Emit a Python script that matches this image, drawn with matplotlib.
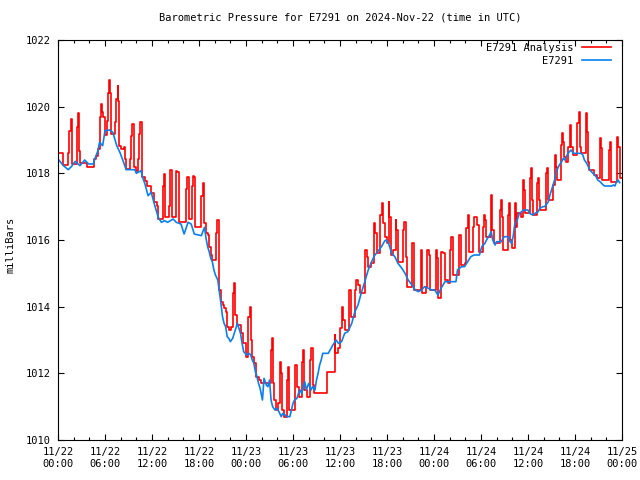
import matplotlib

matplotlib.use("Agg")
import matplotlib.pyplot as plt
import pandas as pd
from matplotlib.ticker import MultipleLocator

# hours after 2024-11-22 00:00 UTC, pressure in mb
blue_hours = [
    0.0, 0.7, 1.3, 1.7, 2.2, 2.8, 3.4, 3.9, 4.5, 4.7, 5.1, 5.3, 5.7, 6.0, 6.6, 7.0,
    7.5, 7.9, 8.3, 8.7, 9.8, 10.0, 10.6, 10.8, 11.1, 11.5, 11.9, 12.3, 12.8, 13.2,
    13.6, 14.0, 14.7, 15.1, 15.7, 16.1, 16.6, 17.0, 17.4, 18.3, 18.7, 18.9, 19.1,
    19.3, 19.5, 19.7, 19.9, 20.1, 20.4, 20.6, 20.8, 21.0, 21.2, 21.4, 21.6, 21.8,
    22.0, 22.3, 22.5, 22.9, 23.3, 23.5, 23.7, 23.9, 24.1, 24.4, 24.6, 24.8, 25.0,
    25.2, 25.4, 25.6, 25.8, 26.1, 26.3, 26.6, 26.8, 27.0, 27.2, 27.4, 27.7, 27.9,
    28.1, 28.3, 28.5, 28.7, 29.0, 29.2, 29.6, 29.8, 30.0, 30.2, 30.5, 30.7, 30.9,
    31.1, 31.3, 31.5, 31.7, 32.0, 32.3, 32.5, 32.8, 33.0, 33.2, 33.4, 33.6, 33.8,
    34.5, 35.1, 35.5, 35.8, 36.2, 36.6, 37.0, 37.5, 37.9, 38.3, 38.7, 39.1, 39.6,
    40.0, 40.4, 40.9, 41.3, 41.7, 41.9, 42.2, 42.6, 43.0, 43.4, 43.9, 44.3, 44.7,
    45.2, 45.6, 46.0, 46.4, 46.8, 47.3, 47.7, 48.1, 48.5, 48.9, 49.4, 50.2, 50.8,
    51.0, 51.5, 51.9, 52.3, 52.7, 53.1, 53.4, 53.8, 54.1, 54.5, 54.7, 55.1, 55.3,
    55.5, 55.8, 56.0, 56.6, 56.8, 57.0, 57.5, 57.7, 57.9, 58.1, 58.3, 58.5, 58.7,
    58.9, 59.2, 59.4, 60.0, 60.2, 60.6, 60.9, 61.3, 61.5, 61.9, 62.1, 62.3, 62.6,
    62.8, 63.0, 63.2, 63.4, 63.6, 63.8, 64.0, 64.3, 64.5, 64.7, 64.9, 65.1, 65.5,
    65.8, 66.8, 67.0, 67.2, 67.5, 67.7, 67.9, 68.1, 68.3, 68.5, 68.7, 68.9, 69.2,
    69.6, 69.8, 70.7, 70.9, 71.1, 71.3, 71.5, 71.7,
]
blue_press = [
    1018.43, 1018.23, 1018.11, 1018.20, 1018.36, 1018.23, 1018.40, 1018.28, 1018.28,
    1018.43, 1018.68, 1018.93, 1018.83, 1019.28, 1019.30, 1019.23, 1018.83, 1018.63,
    1018.38, 1018.11, 1018.11, 1018.00, 1018.08, 1017.88, 1017.68, 1017.33, 1017.43,
    1017.08, 1016.68, 1016.53, 1016.58, 1016.53, 1016.63, 1016.53, 1016.48, 1016.18,
    1016.53, 1016.48, 1016.18, 1016.13, 1016.38, 1016.05, 1015.80, 1015.65, 1015.45,
    1015.35, 1015.10, 1014.95, 1014.80, 1014.45, 1014.10, 1013.70, 1013.50, 1013.40,
    1013.10, 1013.05, 1012.95, 1013.05, 1013.20, 1013.50, 1013.20, 1012.90, 1012.65,
    1012.60, 1012.55, 1012.60, 1012.55, 1012.40, 1012.30, 1012.05, 1011.90, 1011.70,
    1011.55, 1011.20, 1011.85, 1011.65, 1011.60, 1011.80, 1011.20, 1011.00, 1010.90,
    1010.95, 1010.90, 1010.80, 1010.70, 1010.80, 1010.75, 1010.70, 1010.70, 1010.90,
    1011.10, 1011.20, 1011.25, 1011.40, 1011.50, 1011.40, 1011.60, 1011.75, 1011.50,
    1011.70, 1011.50, 1011.60, 1011.50, 1011.80, 1012.00, 1012.25, 1012.40, 1012.60,
    1012.60, 1012.85, 1013.00, 1012.90, 1012.95, 1013.20, 1013.25, 1013.50, 1013.85,
    1014.05, 1014.40, 1014.70, 1015.10, 1015.33, 1015.53, 1015.68, 1015.80, 1015.97,
    1016.00, 1015.90, 1015.60, 1015.50, 1015.30, 1015.15, 1015.00, 1014.80, 1014.65,
    1014.50, 1014.45, 1014.50, 1014.60, 1014.55, 1014.50, 1014.50, 1014.35, 1014.55,
    1014.75, 1014.75, 1014.75, 1015.10, 1015.20, 1015.20, 1015.35, 1015.50, 1015.55,
    1015.55, 1015.55, 1015.80, 1015.90, 1016.00, 1016.15, 1016.25, 1016.00, 1015.85,
    1015.95, 1015.95, 1016.05, 1016.10, 1016.10, 1015.95, 1015.90, 1016.10, 1016.45,
    1016.55, 1016.65, 1016.80, 1016.85, 1016.90, 1016.90, 1016.80, 1016.75, 1016.80,
    1016.85, 1016.95, 1017.00, 1017.00, 1017.05, 1017.15, 1017.35, 1017.50, 1017.65,
    1017.80, 1018.05, 1018.15, 1018.25, 1018.35, 1018.45, 1018.40, 1018.50, 1018.60,
    1018.70, 1018.60, 1018.60, 1018.55, 1018.40, 1018.30, 1018.20, 1018.10, 1018.05,
    1018.00, 1017.95, 1017.90, 1017.80, 1017.75, 1017.65, 1017.62, 1017.62, 1017.65,
    1017.62, 1017.75, 1017.80, 1017.72,
]

red_hours = [
    0.0, 0.7, 1.3, 1.45, 1.6, 1.75, 2.4, 2.55, 2.7, 2.85, 3.65, 4.6, 4.9, 5.1, 5.35,
    5.5, 5.65, 5.8, 6.0, 6.2, 6.35, 6.5, 6.65, 6.8, 7.3, 7.45, 7.6, 7.7, 7.85, 8.1,
    8.4, 8.5, 8.7, 9.2, 9.3, 9.5, 9.65, 10.0, 10.25, 10.4, 10.5, 10.7, 11.05, 11.4,
    11.9, 12.3, 12.6, 12.8, 13.35, 13.5, 13.65, 14.2, 14.3, 14.5, 15.1, 15.25, 15.4,
    16.4, 16.5, 16.7, 17.1, 17.2, 17.4, 17.55, 18.3, 18.45, 18.6, 18.9, 19.1, 19.3,
    19.5, 19.7, 20.15, 20.3, 20.35, 20.5, 20.6, 20.8, 21.0, 21.2, 21.4, 21.6, 21.85,
    22.05, 22.35, 22.5, 22.6, 22.8, 23.4, 23.6, 24.0, 24.3, 24.45, 24.6, 24.8, 25.0,
    25.3, 25.65, 25.9, 27.15, 27.3, 27.45, 27.6, 27.8, 28.1, 28.3, 28.45, 28.6,
    28.85, 29.25, 29.4, 29.55, 30.3, 30.45, 30.75, 31.2, 31.3, 31.45, 31.8, 32.2,
    32.35, 32.5, 32.65, 34.3, 35.3, 35.4, 35.8, 36.0, 36.2, 36.35, 36.6, 37.2, 37.4,
    37.9, 38.05, 38.3, 38.5, 39.2, 39.4, 39.6, 40.0, 40.3, 40.45, 40.7, 41.1, 41.3,
    41.45, 41.75, 41.95, 42.2, 42.3, 42.5, 42.8, 43.1, 43.2, 43.4, 44.0, 44.2, 44.4,
    44.6, 45.25, 45.4, 46.3, 46.45, 47.0, 47.15, 47.3, 47.45, 48.25, 48.35, 48.5,
    48.9, 49.15, 49.45, 49.8, 50.0, 50.2, 50.4, 51.2, 51.4, 51.5, 51.9, 52.1, 52.3,
    52.45, 52.95, 53.1, 53.5, 53.7, 54.25, 54.4, 54.5, 54.7, 55.25, 55.3, 55.45,
    55.65, 56.4, 56.5, 56.65, 56.8, 57.4, 57.55, 57.7, 57.9, 58.3, 58.45, 58.55,
    59.15, 59.3, 59.45, 59.6, 60.2, 60.35, 60.5, 60.65, 61.2, 61.3, 61.4, 61.55,
    62.25, 62.45, 62.55, 63.25, 63.4, 63.55, 63.65, 64.2, 64.3, 64.45, 64.55, 64.9,
    65.1, 65.4, 65.55, 65.75, 66.3, 66.5, 66.6, 66.75, 67.35, 67.5, 67.6, 67.75,
    68.45, 68.85, 69.25, 69.35, 69.5, 70.35, 70.45, 70.55, 71.3, 71.4, 71.55, 71.7,
    72.0,
]
red_press = [
    1018.62, 1018.25, 1018.60, 1019.28, 1019.63, 1018.28, 1019.40, 1019.80, 1018.68,
    1018.31, 1018.20, 1018.43, 1018.53, 1018.73, 1019.70, 1020.08, 1019.83, 1019.68,
    1019.15, 1019.58, 1020.40, 1020.80, 1020.40, 1019.18, 1019.53, 1020.23, 1020.63,
    1020.18, 1018.83, 1018.73, 1018.78, 1018.43, 1018.13, 1018.43, 1019.13, 1019.48,
    1018.18, 1018.08, 1018.43, 1019.18, 1019.53, 1017.88, 1017.78, 1017.63, 1017.40,
    1017.13, 1017.03, 1016.63, 1017.63, 1017.98, 1016.68, 1017.03, 1018.10, 1016.68,
    1018.08, 1018.03, 1016.53, 1017.53, 1017.88, 1016.63, 1017.63, 1017.93, 1017.90,
    1016.38, 1017.33, 1017.70, 1016.50, 1016.20, 1016.15, 1015.80, 1015.55, 1015.40,
    1016.20, 1016.30, 1016.60, 1016.00, 1014.50, 1014.15, 1014.05, 1013.95, 1013.85,
    1013.40, 1013.30, 1013.40, 1014.40, 1014.70, 1013.75, 1013.45, 1013.20, 1012.90,
    1012.50, 1013.70, 1014.00, 1013.00, 1012.50, 1012.30, 1011.90, 1011.80, 1011.70,
    1012.70, 1013.05, 1011.70, 1011.20, 1010.90, 1011.10, 1012.35, 1012.00, 1010.90,
    1010.70, 1011.80, 1012.20, 1010.90, 1012.25, 1011.60, 1011.30, 1012.35, 1012.70,
    1011.50, 1011.30, 1012.40, 1012.75, 1011.65, 1011.40, 1012.05, 1013.15, 1012.60,
    1012.75, 1013.35, 1014.00, 1013.60, 1013.30, 1014.50, 1013.70, 1014.50, 1014.80,
    1014.65, 1014.40, 1015.70, 1015.50, 1015.20, 1015.30, 1016.50, 1016.20, 1015.60,
    1016.75, 1017.10, 1016.50, 1016.10, 1015.90, 1017.15, 1016.70, 1015.55, 1015.70,
    1016.60, 1016.30, 1015.35, 1016.30, 1016.55, 1015.50, 1014.60, 1015.90, 1014.50,
    1015.70, 1014.40, 1014.60, 1015.70, 1015.55, 1014.50, 1015.70, 1015.45, 1014.25,
    1015.65, 1015.60, 1014.80, 1014.70, 1015.70, 1016.10, 1014.95, 1016.15, 1015.90,
    1015.25, 1015.30, 1016.35, 1016.75, 1015.65, 1016.40, 1016.70, 1016.45, 1015.65,
    1016.40, 1016.75, 1016.60, 1016.10, 1016.95, 1017.35, 1016.30, 1015.90, 1016.90,
    1017.20, 1016.70, 1015.70, 1016.75, 1017.10, 1016.00, 1015.75, 1017.10, 1016.40,
    1016.80, 1016.70, 1017.80, 1017.50, 1016.80, 1017.85, 1018.15, 1017.20, 1016.75,
    1017.70, 1017.85, 1017.20, 1016.90, 1018.00, 1018.15, 1017.20, 1017.65, 1018.55,
    1018.20, 1017.80, 1018.85, 1019.20, 1018.95, 1018.50, 1018.35, 1018.80, 1019.45,
    1018.80, 1018.55, 1019.50, 1019.85, 1018.80, 1018.60, 1019.80, 1019.25, 1018.35,
    1018.10, 1017.95, 1017.85, 1019.05, 1018.75, 1017.80, 1018.70, 1018.95, 1017.75,
    1018.80, 1019.10, 1018.80, 1017.85, 1017.85,
]

tick_hours = list(range(0, 73, 6))
tick_labels = pd.date_range("2024-11-22", periods=len(tick_hours), freq="6h").strftime("%m/%d\n%H:%M")

FONT = "DejaVu Sans Mono"
FS = 7.5

fig = plt.figure(figsize=(6.4, 4.8), dpi=100)
ax = fig.add_axes([58 / 640, 40 / 480, 564 / 640, 400 / 480])

ax.plot(red_hours, red_press, drawstyle="steps-post", color="#ff0000", linewidth=1.2,
        label="E7291 Analysis")
ax.plot(blue_hours, blue_press, color="#0a80f0", linewidth=1.2, label="E7291")

ax.set_xlim(0, 72)
ax.set_ylim(1010, 1022)
ax.set_xticks(tick_hours)
ax.set_xticklabels(tick_labels)
ax.xaxis.set_minor_locator(MultipleLocator(2))
ax.set_yticks(range(1010, 1023, 2))

ax.tick_params(which="both", direction="in", top=True, right=True, width=0.8,
               colors="black", labelsize=FS)
ax.tick_params(which="major", length=4.5, pad=5)
ax.tick_params(which="minor", length=2.5)
for label in ax.get_xticklabels() + ax.get_yticklabels():
    label.set_family(FONT)
for spine in ax.spines.values():
    spine.set_linewidth(0.8)

ax.set_title("Barometric Pressure for E7291 on 2024-Nov-22 (time in UTC)",
             family=FONT, fontsize=FS, pad=14)
fig.text(11 / 640, 0.49, "milliBars", rotation=90, va="center", ha="center",
         family=FONT, fontsize=FS)

ax.legend(loc="upper right", bbox_to_anchor=(611 / 640, 1 - 43 / 480),
          bbox_transform=fig.transFigure, frameon=False, markerfirst=False,
          handlelength=2.8, handletextpad=0.8, labelspacing=0.25, borderpad=0,
          borderaxespad=0, prop={"family": FONT, "size": FS})

fig.savefig("out.png", dpi=100)
